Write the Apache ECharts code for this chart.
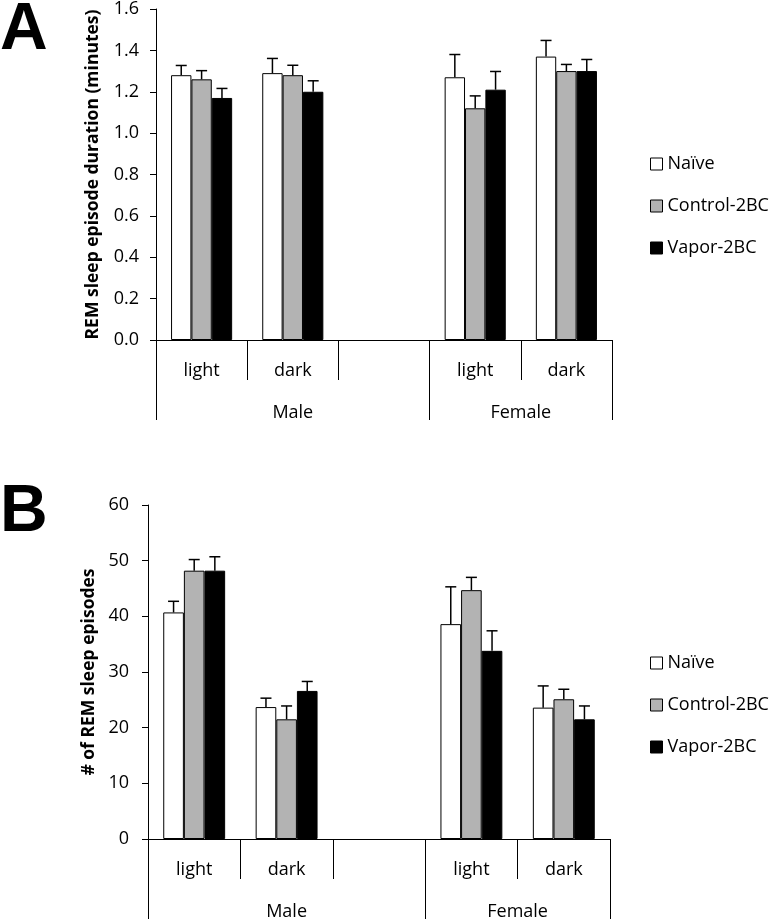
<!DOCTYPE html>
<html>
<head>
<meta charset="utf-8">
<script src="https://cdn.jsdelivr.net/npm/echarts@6/dist/echarts.min.js"></script>
<style>html,body{margin:0;padding:0;background:#fff;}#c{width:769px;height:921px;}</style>
</head>
<body>
<div id="c"></div>
<script>
// ---- data ----
const categories = ['light', 'dark', '', 'light', 'dark'];
const groupLabels = ['', '', '', 'Male', '', '', '', '', 'Female', '', ''];
const seriesNames = ['Naïve', 'Control-2BC', 'Vapor-2BC'];

// Panel A: REM sleep episode duration (minutes)
const naiveA = [1.28, 1.29, null, 1.27, 1.37];
const controlA = [1.26, 1.28, null, 1.12, 1.30];
const vaporA = [1.17, 1.20, null, 1.21, 1.30];
const naiveErrA = [0.047, 0.071, null, 0.11, 0.078];
const controlErrA = [0.042, 0.048, null, 0.06, 0.032];
const vaporErrA = [0.046, 0.053, null, 0.088, 0.056];
const yTicksA = [0, 1.6, 0.2]; // min, max, interval

// Panel B: # of REM sleep episodes
const naiveB = [40.7, 23.7, null, 38.6, 23.6];
const controlB = [48.2, 21.5, null, 44.7, 25.1];
const vaporB = [48.2, 26.6, null, 33.8, 21.5];
const naiveErrB = [2.0, 1.6, null, 6.7, 3.9];
const controlErrB = [2.0, 2.4, null, 2.3, 1.8];
const vaporErrB = [2.5, 1.7, null, 3.6, 2.4];
const yTicksB = [0, 60, 10];

// ---- styles ----
const FONT = 'Open Sans';
const colors = ['#ffffff', '#b3b3b3', '#000000'];
const CAT_GAP = 0.33;

const chart = echarts.init(document.getElementById('c'), null, {renderer: 'canvas'});

function barSeries(name, k, data, grid) {
  return {
    type: 'bar', name: name, xAxisIndex: grid * 2, yAxisIndex: grid,
    data: data, barGap: '0%', barCategoryGap: (CAT_GAP * 100) + '%',
    itemStyle: {color: colors[k], borderColor: '#000', borderWidth: 1},
    silent: true, z: 2
  };
}
function errSeries(name, k, vals, errs, grid) {
  const data = [];
  vals.forEach((v, i) => { if (v != null) data.push([i, v, errs[i]]); });
  return {
    type: 'custom', name: name + ' err', xAxisIndex: grid * 2, yAxisIndex: grid,
    data: data, z: 3, silent: true,
    encode: {x: 0, y: 1},
    renderItem: function (params, api) {
      const x = api.value(0), v = api.value(1), e = api.value(2);
      const base = api.coord([x, v]);
      const top = api.coord([x, v + e]);
      const band = api.size([1, 0])[0];
      const bw = band * (1 - CAT_GAP) / 3;
      const cx = base[0] + (k - 1) * bw;
      const st = {stroke: '#000', lineWidth: 1.5};
      return {
        type: 'group',
        children: [
          {type: 'line', shape: {x1: cx, y1: base[1], x2: cx, y2: top[1]}, style: st},
          {type: 'line', shape: {x1: cx - 5.5, y1: top[1], x2: cx + 5.5, y2: top[1]}, style: st}
        ]
      };
    }
  };
}

function xAxes(grid) {
  return [
    {
      type: 'category', gridIndex: grid, data: categories, boundaryGap: true,
      axisLine: {lineStyle: {color: '#000', width: 1}},
      axisTick: {show: true, interval: 0, length: 40, lineStyle: {color: '#000', width: 1}},
      axisLabel: {interval: 0, margin: 22, color: '#000', fontSize: 18, fontFamily: FONT}
    },
    {
      type: 'category', gridIndex: grid, data: groupLabels, boundaryGap: false, position: 'bottom',
      axisLine: {show: false},
      axisTick: {show: true, length: 80, lineStyle: {color: '#000', width: 1},
        interval: function (idx) { return idx === 0 || idx === 6 || idx === 10; }},
      axisLabel: {interval: 0, margin: 64, color: '#000', fontSize: 18, fontFamily: FONT}
    }
  ];
}
function yAxis(grid, ticks, name, gap, dec, margin) {
  return {
    type: 'value', gridIndex: grid, min: ticks[0], max: ticks[1], interval: ticks[2],
    name: name, nameLocation: 'middle', nameGap: gap,
    nameTextStyle: {fontSize: 17.5, fontWeight: 'bold', color: '#000', fontFamily: FONT},
    axisLine: {show: true, lineStyle: {color: '#000', width: 1}},
    axisTick: {show: true, length: 6, lineStyle: {color: '#000', width: 1}},
    splitLine: {show: false},
    axisLabel: {margin: margin, color: '#000', fontSize: 18, fontFamily: FONT,
      formatter: function (v) { return dec ? v.toFixed(dec) : String(v); }}
  };
}
function legend(top) {
  return {
    orient: 'vertical', left: 650, top: top, padding: 0, itemGap: 24,
    itemWidth: 12, itemHeight: 12, icon: 'rect', selectedMode: false,
    textStyle: {fontSize: 18, color: '#000', fontFamily: FONT, lineHeight: 18},
    data: seriesNames.map((n, k) => ({name: n, itemStyle: {color: colors[k], borderColor: '#000', borderWidth: 1}}))
  };
}

const option = {
  animation: false,
  backgroundColor: '#fff',
  textStyle: {fontFamily: FONT},
  title: [
    {text: 'A', left: 0, top: -2, padding: 0, textStyle: {fontSize: 66, fontWeight: 'bold', color: '#000', fontFamily: 'Liberation Sans'}},
    {text: 'B', left: 0, top: 480, padding: 0, textStyle: {fontSize: 66, fontWeight: 'bold', color: '#000', fontFamily: 'Liberation Sans'}}
  ],
  legend: [legend(155), legend(654)],
  grid: [
    {left: 156, top: 4, width: 456, height: 336},
    {left: 148, top: 505, width: 462, height: 335}
  ],
  xAxis: xAxes(0).concat(xAxes(1)),
  yAxis: [
    yAxis(0, yTicksA, 'REM sleep episode duration (minutes)', 54, 1, 17),
    yAxis(1, yTicksB, '# of REM sleep episodes', 50, 0, 19)
  ],
  series: [
    barSeries(seriesNames[0], 0, naiveA, 0),
    barSeries(seriesNames[1], 1, controlA, 0),
    barSeries(seriesNames[2], 2, vaporA, 0),
    errSeries(seriesNames[0], 0, naiveA, naiveErrA, 0),
    errSeries(seriesNames[1], 1, controlA, controlErrA, 0),
    errSeries(seriesNames[2], 2, vaporA, vaporErrA, 0),
    barSeries(seriesNames[0], 0, naiveB, 1),
    barSeries(seriesNames[1], 1, controlB, 1),
    barSeries(seriesNames[2], 2, vaporB, 1),
    errSeries(seriesNames[0], 0, naiveB, naiveErrB, 1),
    errSeries(seriesNames[1], 1, controlB, controlErrB, 1),
    errSeries(seriesNames[2], 2, vaporB, vaporErrB, 1)
  ]
};
chart.setOption(option);
</script>
</body>
</html>
